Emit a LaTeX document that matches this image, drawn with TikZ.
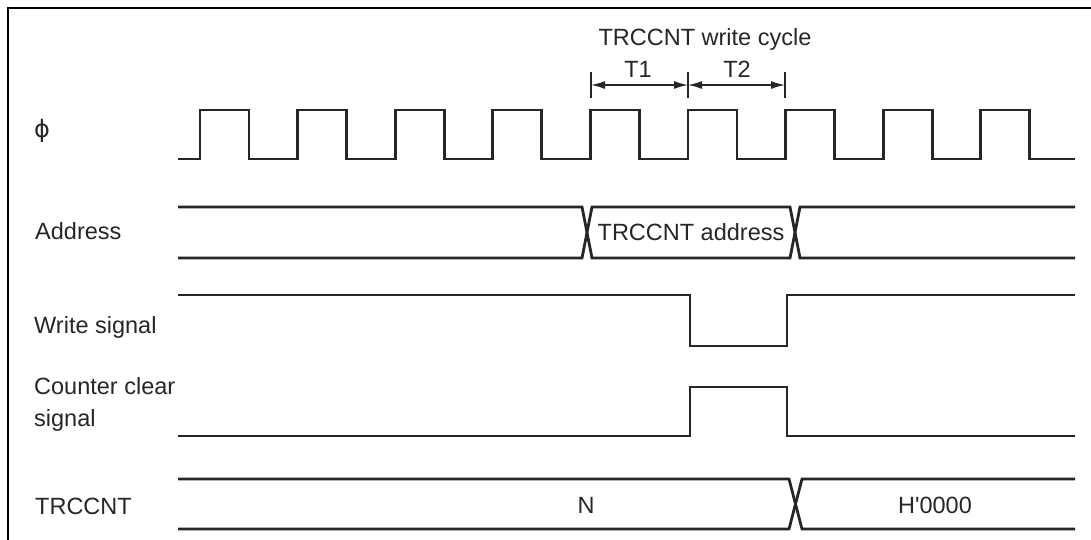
\documentclass[tikz,border=0pt]{standalone}
\usepackage{fontspec}
\setmainfont{Liberation Sans}[Ligatures=TeXOff]
\newfontfamily\symfont{DejaVu Sans}
\usetikzlibrary{arrows.meta}
\begin{document}
\begin{tikzpicture}[x=1pt,y=-1pt,
  sig/.style={line width=2.8pt,line join=miter,color=black!85},
  lbl/.style={anchor=west,inner sep=0pt,font=\fontsize{23.5}{28}\selectfont,text=black!85},
  txt/.style={inner sep=0pt,font=\fontsize{23.5}{28}\selectfont,text=black!85},
  dim/.style={line width=1.4pt,color=black!85},
  tick/.style={line width=1.4pt,color=black!85},
  arr/.style={{Latex[length=14pt,width=8pt]}-{Latex[length=14pt,width=8pt]}}]
\useasboundingbox (0,0) rectangle (1091,540);
\draw[line width=2.8pt] (8,540) -- (8,8) -- (1091,8);
% labels
\node[lbl] (lphi) at (34,131) {{\symfont\fontsize{24}{28}\selectfont ϕ}};
\node[lbl] (laddr) at (35,231) {Address};
\node[lbl] (lwr) at (34,327) {Write signal};
\node[lbl] (lcc1) at (34,386) {Counter clear};
\node[lbl] (lcc2) at (34,420) {signal};
\node[lbl] (ltr) at (35,506) {TRCCNT};
% clock
\draw[sig] (178,159)
  \foreach \r in {200,297.6,395.2,492.8,590.4,688,785.6,883.2,980.8}{
    -- (\r,159) -- (\r,110) -- ({\r+49},110) -- ({\r+49},159)}
  -- (1075,159);
% cycle annotation
\coordinate (t0) at (591,85);
\coordinate (t1) at (688,85);
\coordinate (t2) at (785,85);
\draw[tick] (591,72) -- (591,98);
\draw[tick] (688,72) -- (688,98);
\draw[tick] (785,72) -- (785,98);
\draw[dim,arr] (t0) -- (t1);
\draw[dim,arr] (t1) -- (t2);
\node[txt] (lt1) at (638,69) {T1};
\node[txt] (lt2) at (737,69) {T2};
\node[txt] (lcyc) at (705,39) {TRCCNT write cycle};
% address bus
\draw[sig] (178,207) -- (582,207) -- (592,258) -- (790,258) -- (800,207) -- (1075,207);
\draw[sig] (178,258) -- (582,258) -- (592,207) -- (790,207) -- (800,258) -- (1075,258);
\node[txt] (laddrv) at (691,232) {TRCCNT address};
% write signal
\draw[sig] (178,295) -- (690,295) -- (690,346) -- (787,346) -- (787,295) -- (1075,295);
% counter clear
\draw[sig] (178,436) -- (690,436) -- (690,387) -- (787,387) -- (787,436) -- (1075,436);
% TRCCNT bus
\draw[sig] (178,479) -- (789,479) -- (802,529) -- (1075,529);
\draw[sig] (178,529) -- (789,529) -- (802,479) -- (1075,479);
\node[txt] (ln) at (586,505) {N};
\node[txt] (lh) at (935,505) {H'0000};
\end{tikzpicture}
\end{document}
